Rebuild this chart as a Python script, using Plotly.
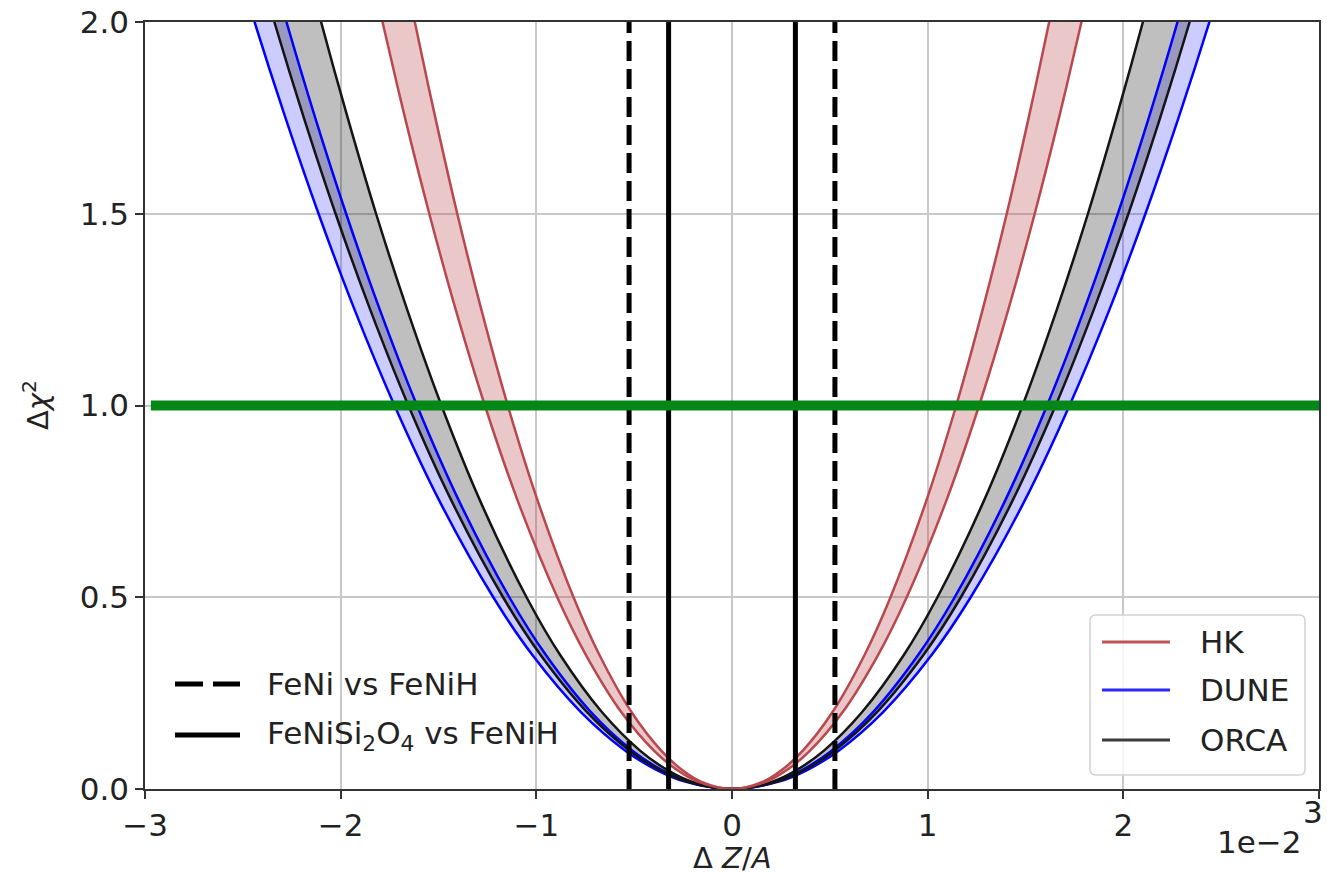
import plotly.graph_objects as go

# Delta Z/A values are given in units of 1e-2.
# Each band edge is tabulated as the |Delta Z/A| at which it reaches the given Delta chi^2 level.
chi2_levels = [0, 0.02, 0.05, 0.1, 0.2, 0.35, 0.5, 0.75, 1.0, 1.25, 1.5, 1.75, 2.0, 2.3]

hk_outer = [0, 0.179, 0.282, 0.399, 0.565, 0.747, 0.893, 1.094, 1.263, 1.412, 1.547, 1.671, 1.786, 1.915]
hk_inner = [0, 0.162, 0.256, 0.362, 0.513, 0.678, 0.810, 0.992, 1.146, 1.281, 1.404, 1.516, 1.621, 1.738]
dune_outer = [0, 0.244, 0.386, 0.545, 0.771, 1.021, 1.220, 1.494, 1.725, 1.929, 2.113, 2.282, 2.440, 2.616]
dune_inner = [0, 0.228, 0.360, 0.509, 0.720, 0.952, 1.138, 1.394, 1.610, 1.800, 1.972, 2.130, 2.277, 2.442]
orca_outer = [0, 0.234, 0.370, 0.523, 0.740, 0.979, 1.170, 1.432, 1.654, 1.849, 2.026, 2.188, 2.339, 2.508]
orca_inner = [0, 0.210, 0.332, 0.470, 0.664, 0.879, 1.050, 1.286, 1.485, 1.660, 1.819, 1.964, 2.100, 2.252]

# Composition differences (1e-2 units)
feni_x = [-0.526, 0.526]          # FeNi vs FeNiH
fenisio_x = [-0.324, 0.324]       # FeNiSi2O4 vs FeNiH
one_sigma_level = 1.0

x_tick_vals = [-3, -2, -1, 0, 1, 2, 3]
x_tick_text = ["\u22123", "\u22122", "\u22121", "0", "1", "2", "3"]
y_tick_vals = [0.0, 0.5, 1.0, 1.5, 2.0]
y_tick_text = ["0.0", "0.5", "1.0", "1.5", "2.0"]

experiments = ["HK", "DUNE", "ORCA"]
line_colors = {"HK": "rgb(185,72,78)", "DUNE": "rgb(0,0,255)", "ORCA": "rgb(20,20,20)"}
fill_colors = {"HK": "rgba(185,72,78,0.30)", "DUNE": "rgba(0,0,255,0.20)", "ORCA": "rgba(0,0,0,0.25)"}
legend_line_colors = {"HK": "rgb(192,82,88)", "DUNE": "rgb(40,40,255)", "ORCA": "rgb(60,60,60)"}
edges = {"HK": (hk_outer, hk_inner), "DUNE": (dune_outer, dune_inner), "ORCA": (orca_outer, orca_inner)}

FONT = "DejaVu Sans"
TEXT_SIZE = 31


def full_curve(half_widths):
    """Symmetric curve from left branch through the minimum to the right branch."""
    xs = [-w for w in reversed(half_widths)] + list(half_widths[1:])
    ys = list(reversed(chi2_levels)) + list(chi2_levels[1:])
    return xs, ys


fig = go.Figure()

# Shaded bands
for name in ["DUNE", "ORCA", "HK"]:
    outer, inner = edges[name]
    xo, yo = full_curve(outer)
    xi, yi = full_curve(inner)
    fig.add_trace(go.Scatter(
        x=xo + xi[::-1], y=yo + yi[::-1], mode="lines", fill="toself",
        fillcolor=fill_colors[name], line=dict(width=0, shape="spline"),
        hoverinfo="skip", showlegend=False))

# Band edges
for name in ["DUNE", "ORCA", "HK"]:
    for half in edges[name]:
        xs, ys = full_curve(half)
        fig.add_trace(go.Scatter(
            x=xs, y=ys, mode="lines", line=dict(color=line_colors[name], width=2.5, shape="spline"),
            name=name, showlegend=False))

# Vertical markers for composition differences
for xv in feni_x:
    fig.add_trace(go.Scatter(x=[xv, xv], y=[0, 2], mode="lines",
                             line=dict(color="black", width=5, dash="20px,8px"), showlegend=False))
for xv in fenisio_x:
    fig.add_trace(go.Scatter(x=[xv, xv], y=[0, 2], mode="lines",
                             line=dict(color="black", width=5), showlegend=False))

# Delta chi^2 = 1 line
fig.add_trace(go.Scatter(x=[-2.97, 3.0], y=[one_sigma_level, one_sigma_level], mode="lines",
                         line=dict(color="rgb(3,135,22)", width=10), showlegend=False))

# Plot area geometry (px)
W, H = 1327, 875
L, R, T, B = 145, 8, 22, 86
pw, ph = W - L - R, H - T - B


def px(xp):
    return (xp - L) / pw


def py(yp):
    return (H - B - yp) / ph


shapes = []
annotations = []

# Left legend (no frame)
shapes.append(dict(type="line", xref="paper", yref="paper", x0=px(175), x1=px(240), y0=py(684), y1=py(684),
                   line=dict(color="black", width=5, dash="28px,10px"), layer="above"))
shapes.append(dict(type="line", xref="paper", yref="paper", x0=px(175), x1=px(240), y0=py(735), y1=py(735),
                   line=dict(color="black", width=5), layer="above"))
annotations.append(dict(xref="paper", yref="paper", x=px(265), y=py(684), xanchor="left", yanchor="middle",
                        text="FeNi vs FeNiH", showarrow=False, font=dict(family=FONT, size=TEXT_SIZE, color="#222")))
annotations.append(dict(xref="paper", yref="paper", x=px(265), y=py(735), xanchor="left", yanchor="middle",
                        text="FeNiSi<sub>2</sub>O<sub>4</sub> vs FeNiH", showarrow=False,
                        font=dict(family=FONT, size=TEXT_SIZE, color="#222")))

# Right legend box with rounded corners
x0b, x1b, y0b, y1b, r = 1090, 1305, 615, 775, 6
rx, ry = r / pw, r / ph
bx0, bx1, by0, by1 = px(x0b), px(x1b), py(y1b), py(y0b)
path = (f"M {bx0+rx},{by0} L {bx1-rx},{by0} Q {bx1},{by0} {bx1},{by0+ry} "
        f"L {bx1},{by1-ry} Q {bx1},{by1} {bx1-rx},{by1} "
        f"L {bx0+rx},{by1} Q {bx0},{by1} {bx0},{by1-ry} "
        f"L {bx0},{by0+ry} Q {bx0},{by0} {bx0+rx},{by0} Z")
shapes.append(dict(type="path", xref="paper", yref="paper", path=path,
                   fillcolor="rgba(255,255,255,0.8)", line=dict(color="rgb(210,210,210)", width=1.5),
                   layer="above"))
for name, yp in zip(experiments, [642, 690, 740]):
    shapes.append(dict(type="line", xref="paper", yref="paper", x0=px(1102), x1=px(1170), y0=py(yp), y1=py(yp),
                       line=dict(color=legend_line_colors[name], width=3), layer="above"))
    annotations.append(dict(xref="paper", yref="paper", x=px(1198), y=py(yp), xanchor="left", yanchor="middle",
                            text=name, showarrow=False, font=dict(family=FONT, size=TEXT_SIZE, color="#222")))

# Last x tick label sits on the figure edge; place it explicitly so it stays inside the page
annotations.append(dict(xref="x", yref="paper", x=x_tick_vals[-1], y=py(812), xanchor="center", yanchor="middle",
                        xshift=-6, text=x_tick_text[-1], showarrow=False,
                        font=dict(family=FONT, size=TEXT_SIZE, color="#222")))

# Axis titles and offset text
annotations.append(dict(xref="paper", yref="paper", x=px(732), y=py(858), xanchor="center", yanchor="middle",
                        text="\u0394 <i>Z</i>/<i>A</i>", showarrow=False,
                        font=dict(family=FONT, size=29, color="#222")))
annotations.append(dict(xref="paper", yref="paper", x=px(36), y=py(405), xanchor="center", yanchor="middle",
                        text="\u0394<i>\u03c7</i><sup>2</sup>", textangle=-90, showarrow=False,
                        font=dict(family=FONT, size=29, color="#222")))
annotations.append(dict(xref="paper", yref="paper", x=px(1304), y=py(842), xanchor="right", yanchor="middle",
                        text="1e\u22122", showarrow=False, font=dict(family=FONT, size=TEXT_SIZE, color="#222")))

axis_common = dict(showline=True, mirror=True, linecolor="#333", linewidth=1.5,
                   ticks="outside", ticklen=8, tickwidth=1.5, tickcolor="#333",
                   showgrid=True, gridcolor="rgb(200,200,200)", gridwidth=1.5, zeroline=False,
                   automargin=False,
                   tickfont=dict(family=FONT, size=TEXT_SIZE, color="#222"))

fig.update_layout(
    width=W, height=H,
    margin=dict(l=L, r=R, t=T, b=B),
    paper_bgcolor="white", plot_bgcolor="white",
    showlegend=False,
    xaxis=dict(range=[-3, 3], tickvals=x_tick_vals, ticktext=x_tick_text[:-1] + [""], **axis_common),
    yaxis=dict(range=[0, 2], tickvals=y_tick_vals, ticktext=y_tick_text, **axis_common),
    shapes=shapes, annotations=annotations,
)

fig.write_html("out.html")
